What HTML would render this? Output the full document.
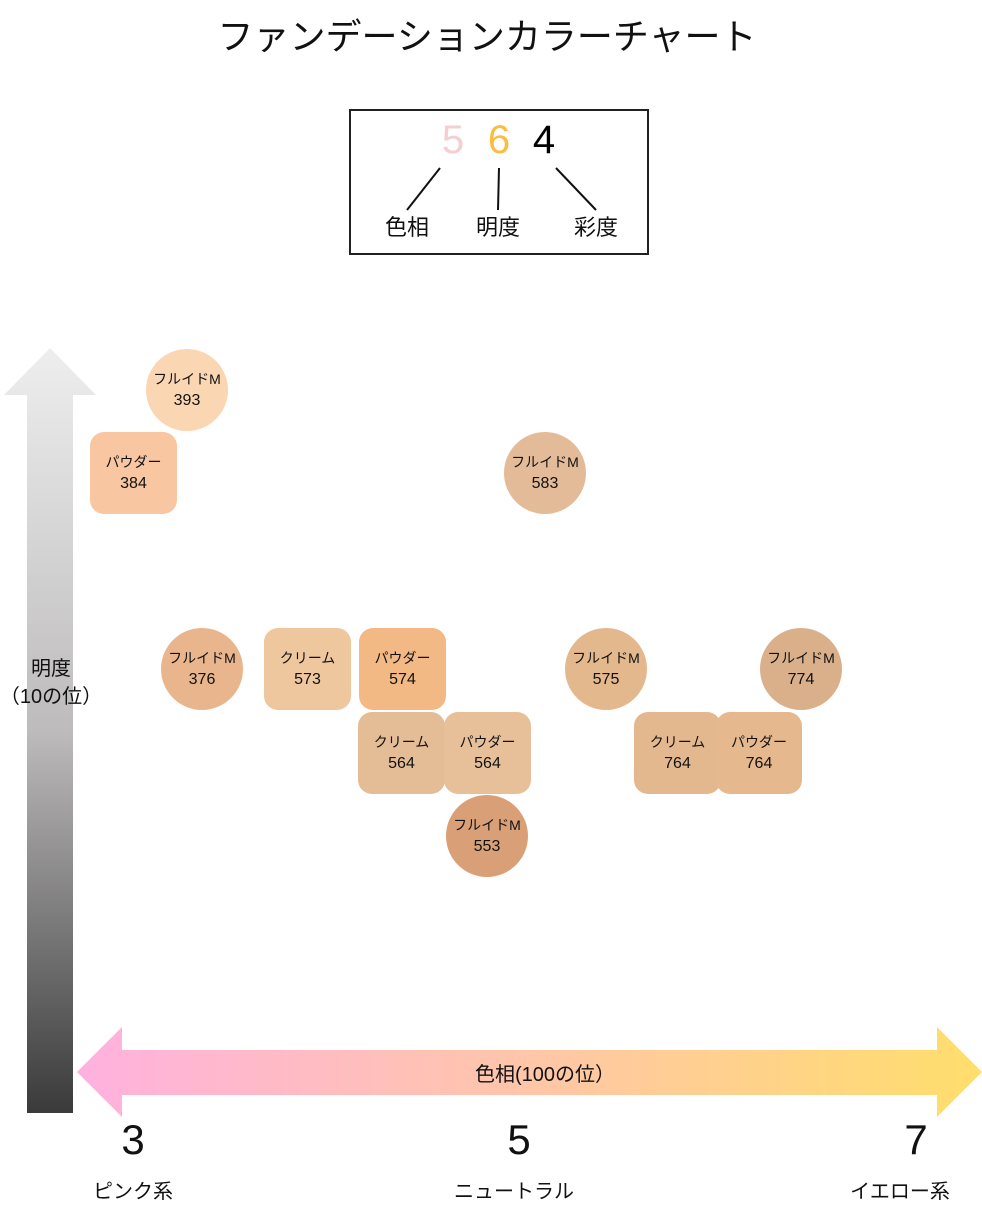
<!DOCTYPE html>
<html><head><meta charset="utf-8"><style>
body{margin:0;width:982px;height:1207px;background:#fff;position:relative;overflow:hidden;font-family:"Liberation Sans","Noto Sans CJK JP",sans-serif;color:#111}
.a{position:absolute}
.n{position:absolute;width:82px;height:82px;display:flex;flex-direction:column;align-items:center;justify-content:center;font-size:14px;line-height:22px;text-align:center}
.n b{font-weight:normal;font-size:16px}
.c{border-radius:50%}
.r{border-radius:14px}
.t{position:absolute;text-align:center;transform:translateX(-50%);white-space:nowrap}
</style></head><body>
<div class="t" style="left:487px;top:8px;font-size:36px">ファンデーションカラーチャート</div>
<div class="a" style="left:349px;top:109px;width:296px;height:142px;border:2px solid #222"></div>
<div class="t" style="left:453px;top:118px;font-size:40px;color:#f3cfd2">5</div>
<div class="t" style="left:499px;top:118px;font-size:40px;color:#fbbd3c">6</div>
<div class="t" style="left:544px;top:118px;font-size:40px;color:#000">4</div>
<svg class="a" style="left:0;top:0" width="982" height="1207">
<defs>
<linearGradient id="v" x1="0" y1="0" x2="0" y2="1"><stop offset="0" stop-color="#eeeeee"/><stop offset="0.5" stop-color="#bdbbbb"/><stop offset="1" stop-color="#3a3a3a"/></linearGradient>
<linearGradient id="h" x1="0" y1="0" x2="1" y2="0"><stop offset="0" stop-color="#ffb1df"/><stop offset="0.5" stop-color="#ffc6a8"/><stop offset="1" stop-color="#ffde6c"/></linearGradient>
</defs>
<line x1="440" y1="168" x2="407" y2="210" stroke="#111" stroke-width="2"/>
<line x1="499" y1="168" x2="498" y2="210" stroke="#111" stroke-width="2"/>
<line x1="556" y1="168" x2="596" y2="210" stroke="#111" stroke-width="2"/>
<polygon points="50,348 96,395 73,395 73,1113 27,1113 27,395 4,395" fill="url(#v)"/>
<polygon points="77,1072 122,1027 122,1050 937,1050 937,1027 982,1072 937,1117 937,1095 122,1095 122,1117" fill="url(#h)"/>
</svg>
<div class="t" style="left:407px;top:210px;font-size:22px">色相</div>
<div class="t" style="left:498px;top:210px;font-size:22px">明度</div>
<div class="t" style="left:596px;top:210px;font-size:22px">彩度</div>
<div class="t" style="left:51px;top:655px;font-size:20px;line-height:28px">明度<br>（10の位）</div>
<div class="t" style="left:545px;top:1058px;font-size:20px">色相(100の位）</div>
<div class="t" style="left:133px;top:1116px;font-size:42px">3</div>
<div class="t" style="left:519px;top:1116px;font-size:42px">5</div>
<div class="t" style="left:916px;top:1116px;font-size:42px">7</div>
<div class="t" style="left:133px;top:1175px;font-size:20px">ピンク系</div>
<div class="t" style="left:514px;top:1175px;font-size:20px">ニュートラル</div>
<div class="t" style="left:900px;top:1175px;font-size:20px">イエロー系</div>

<div class="n c" style="left:146px;top:349px;background:#fad6b3">フルイドM<b>393</b></div>
<div class="n r" style="left:90px;top:432px;width:87px;background:#f8c7a1">パウダー<b>384</b></div>
<div class="n c" style="left:504px;top:432px;background:#e3bb99">フルイドM<b>583</b></div>
<div class="n c" style="left:161px;top:628px;background:#e9b58d">フルイドM<b>376</b></div>
<div class="n r" style="left:264px;top:628px;width:87px;background:#efc79e">クリーム<b>573</b></div>
<div class="n r" style="left:359px;top:628px;width:87px;background:#f3b985">パウダー<b>574</b></div>
<div class="n c" style="left:565px;top:628px;background:#e3b88c">フルイドM<b>575</b></div>
<div class="n c" style="left:760px;top:628px;background:#d9b08a">フルイドM<b>774</b></div>
<div class="n r" style="left:358px;top:712px;width:87px;background:#e4bc96">クリーム<b>564</b></div>
<div class="n r" style="left:444px;top:712px;width:87px;background:#e7c09a">パウダー<b>564</b></div>
<div class="n c" style="left:446px;top:795px;background:#d9a077">フルイドM<b>553</b></div>
<div class="n r" style="left:634px;top:712px;width:87px;background:#e3b88f">クリーム<b>764</b></div>
<div class="n r" style="left:716px;top:712px;width:86px;background:#e5b88e">パウダー<b>764</b></div>
</body></html>
